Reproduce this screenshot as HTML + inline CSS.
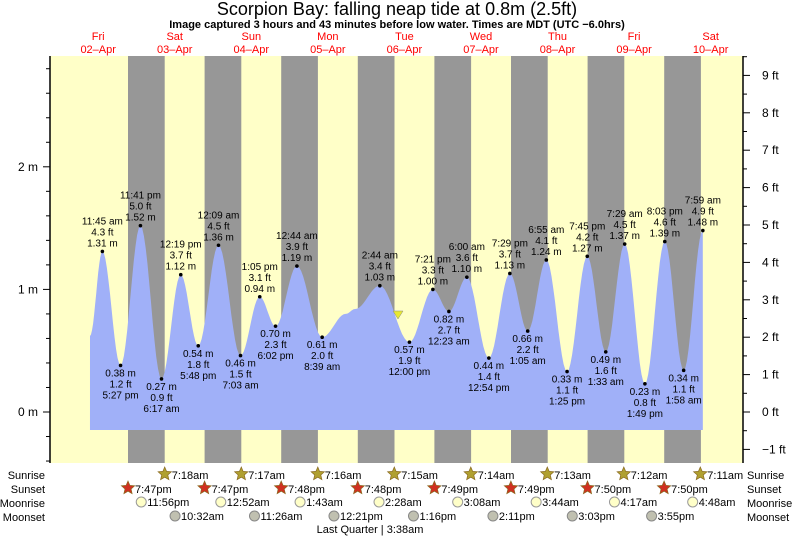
<!DOCTYPE html>
<html><head><meta charset="utf-8"><style>
html,body{margin:0;padding:0;background:#fff;width:793px;height:537px;overflow:hidden}
svg{display:block;font-family:"Liberation Sans",sans-serif}
</style></head><body>
<svg id="s" width="793" height="537" viewBox="0 0 793 537" xmlns="http://www.w3.org/2000/svg"></svg>
<script>
const X=t=>64.9+3.19*t, Y=m=>412-122.6*m;
let o='';
o+='<rect x="50" y="56" width="693" height="407" fill="#ffffc8"/>';
[128,204.6,281.2,357.8,434.4,511,587.6,664.2].forEach(x=>o+=`<rect x="${x}" y="56" width="36.7" height="407" fill="#979797"/>`);
const E=[[7.86,0.62],[11.75,1.31,'11:45 am','4.3 ft',1],[17.45,0.38,'5:27 pm','1.2 ft',0],[23.68,1.52,'11:41 pm','5.0 ft',1],[30.28,0.27,'6:17 am','0.9 ft',0],[36.32,1.12,'12:19 pm','3.7 ft',1],[41.8,0.54,'5:48 pm','1.8 ft',0],[48.15,1.36,'12:09 am','4.5 ft',1],[55.05,0.46,'7:03 am','1.5 ft',0],[61.08,0.94,'1:05 pm','3.1 ft',1],[66.03,0.70,'6:02 pm','2.3 ft',0],[72.73,1.19,'12:44 am','3.9 ft',1],[80.65,0.61,'8:39 am','2.0 ft',0],[88,0.8],[91,0.84],[98.73,1.03,'2:44 am','3.4 ft',1],[108,0.57,'12:00 pm','1.9 ft',0],[115.35,1.00,'7:21 pm','3.3 ft',1],[120.38,0.82,'12:23 am','2.7 ft',0],[126,1.10,'6:00 am','3.6 ft',1],[132.9,0.44,'12:54 pm','1.4 ft',0],[139.48,1.13,'7:29 pm','3.7 ft',1],[145.08,0.66,'1:05 am','2.2 ft',0],[150.92,1.24,'6:55 am','4.1 ft',1],[157.42,0.33,'1:25 pm','1.1 ft',0],[163.75,1.27,'7:45 pm','4.2 ft',1],[169.55,0.49,'1:33 am','1.6 ft',0],[175.48,1.37,'7:29 am','4.5 ft',1],[181.82,0.23,'1:49 pm','0.8 ft',0],[188.05,1.39,'8:03 pm','4.6 ft',1],[193.97,0.34,'1:58 am','1.1 ft',0],[199.98,1.48,'7:59 am','4.9 ft',1]];
let p=`M${X(7.86)},430`;
for(let i=0;i<E.length-1;i++){const[a,ha]=E[i],[b,hb]=E[i+1];for(let k=0;k<=12;k++){const t=a+(b-a)*k/12,h=ha+(hb-ha)*(1-Math.cos(Math.PI*k/12))/2;p+=`L${X(t).toFixed(1)},${Y(h).toFixed(1)}`;}}
p+=`L${X(199.98)},430Z`;
o+=`<path d="${p}" fill="#a0b0f8"/>`;
E.forEach(e=>{if(!e[2])return;const x=X(e[0]),y=Y(e[1]);o+=`<circle cx="${x}" cy="${y}" r="1.8" fill="#000"/>`;const m=e[1].toFixed(2)+' m';let L=e[4]?[e[2],e[3],m]:[m,e[3],e[2]];L.forEach((s,i)=>{const yy=e[4]?y-27+i*11:y+11+i*11;o+=`<text x="${x}" y="${yy}" font-size="10" text-anchor="middle">${s}</text>`;});});
o+='<polygon points="393,311 403,311 398,319" fill="#e8e830" stroke="#888" stroke-width="0.5"/>';
o+='<line x1="50" y1="56" x2="50" y2="463" stroke="#000" stroke-width="1.5"/><line x1="743" y1="56" x2="743" y2="463" stroke="#000" stroke-width="1.5"/>';
for(let m=-0.4;m<=2.9;m+=0.2){const y=Y(m);if(y<56||y>463)continue;const maj=Math.abs(m-Math.round(m))<0.01;o+=`<line x1="${maj?43:46}" y1="${y}" x2="50" y2="${y}" stroke="#000"/>`;if(maj)o+=`<text x="38" y="${y+4}" font-size="12" text-anchor="end">${Math.round(m)} m</text>`;}
for(let f=-1.5;f<=9.5;f+=0.5){const y=412-37.4*f;if(y<56||y>463)continue;const maj=f%1==0;o+=`<line x1="743" y1="${y}" x2="${maj?750:747}" y2="${y}" stroke="#000"/>`;if(maj)o+=`<text x="762" y="${y+4}" font-size="12">${f<0?'\u22121':f} ft</text>`;}
o+='<text x="397" y="15" font-size="18" text-anchor="middle">Scorpion Bay: falling  neap tide at 0.8m (2.5ft)</text>';
o+='<text x="397" y="28" font-size="11" font-weight="bold" text-anchor="middle">Image captured 3 hours and 43 minutes before low water. Times are MDT (UTC \u22126.0hrs)</text>';
const D=[['Fri','02\u2013Apr'],['Sat','03\u2013Apr'],['Sun','04\u2013Apr'],['Mon','05\u2013Apr'],['Tue','06\u2013Apr'],['Wed','07\u2013Apr'],['Thu','08\u2013Apr'],['Fri','09\u2013Apr'],['Sat','10\u2013Apr']];
D.forEach((d,i)=>{const x=X(12+24*i)-5;o+=`<text x="${x}" y="40" font-size="11" fill="#f00" text-anchor="middle">${d[0]}</text><text x="${x}" y="53" font-size="11" fill="#f00" text-anchor="middle">${d[1]}</text>`;});
['Sunrise','Sunset','Moonrise','Moonset'].forEach((s,i)=>{const y=479+i*14;o+=`<text x="45" y="${y}" font-size="11" text-anchor="end">${s}</text><text x="747" y="${y}" font-size="11">${s}</text>`;});
function star(x,y,c){let pts=[];for(let k=0;k<10;k++){const r=k%2?3.2:7,a=-Math.PI/2+k*Math.PI/5;pts.push((x+r*Math.cos(a)).toFixed(1)+','+(y+r*Math.sin(a)).toFixed(1));}return `<polygon points="${pts.join(' ')}" fill="${c}" stroke="#8a6a20" stroke-width="0.7"/>`;}
['7:18am','7:17am','7:16am','7:15am','7:14am','7:13am','7:12am','7:11am'].forEach((s,i)=>{const m=+s.split(':')[1].slice(0,2);const x=X(24*(i+1)+7+m/60);o+=star(x,474,'#b0a030')+`<text x="${x+7}" y="479" font-size="11">${s}</text>`;});
['7:47pm','7:47pm','7:48pm','7:48pm','7:49pm','7:49pm','7:50pm','7:50pm'].forEach((s,i)=>{const m=+s.split(':')[1].slice(0,2);const x=X(24*i+19+m/60);o+=star(x,488,'#d03020')+`<text x="${x+7}" y="493" font-size="11">${s}</text>`;});
[[23.93,'11:56pm'],[48.87,'12:52am'],[73.72,'1:43am'],[98.47,'2:28am'],[123.13,'3:08am'],[147.73,'3:44am'],[172.28,'4:17am'],[196.8,'4:48am']].forEach(([t,s])=>{const x=X(t);o+=`<circle cx="${x}" cy="502" r="5" fill="#ffffc8" stroke="#999"/><text x="${x+6}" y="506" font-size="11">${s}</text>`;});
[[34.53,'10:32am'],[59.43,'11:26am'],[84.35,'12:21pm'],[109.27,'1:16pm'],[134.18,'2:11pm'],[159.05,'3:03pm'],[183.92,'3:55pm']].forEach(([t,s])=>{const x=X(t);o+=`<circle cx="${x}" cy="516" r="5" fill="#c0c0b0" stroke="#888"/><text x="${x+6}" y="520" font-size="11">${s}</text>`;});
o+='<text x="370" y="533" font-size="11" text-anchor="middle">Last Quarter | 3:38am</text>';
document.getElementById('s').innerHTML=o;
</script>
</body></html>
